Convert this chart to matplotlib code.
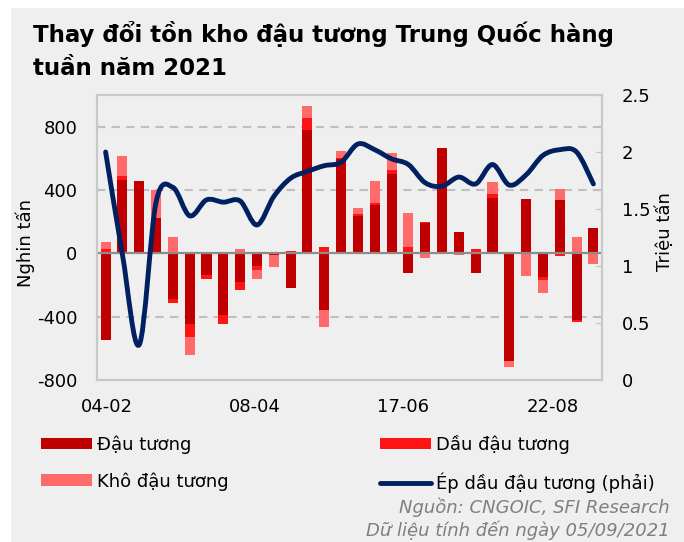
import numpy as np
import matplotlib
matplotlib.use("Agg")
import matplotlib.pyplot as plt
from matplotlib.path import Path
from matplotlib.patches import PathPatch, Patch, Rectangle
from matplotlib.lines import Line2D

plt.rcParams['font.family'] = ['DejaVu Sans']

# ---- data (thousand tonnes, weekly) ----
dau_tuong = [-548, 464, 457, 221, -291, -449, -137, -392, -183, -80,
             -10, -221, 780, -358, 596, 238, 305, 499, -126, 190,
             668, 137, -126, 348, -678, 341, -152, 337, -421, 158]
dau_dau_tuong = [27, 25, 0, 3, -21, -80, -23, -57, -48, -25,
                 0, 12, 74, 40, 8, 10, 10, 27, 40, 8,
                 0, 0, 25, 27, 0, 0, -17, -15, -10, -5]
kho_dau_tuong = [42, 126, 0, 173, 101, -110, 0, 0, 27, -55,
                 -78, 0, 78, -110, 42, 40, 143, 105, 213, -32,
                 0, -10, 0, 74, -38, -141, -80, 70, 101, -65]
# crushing (million tonnes, right axis)
ep_dau = [2.00, 1.10, 0.31, 1.56, 1.69, 1.44, 1.58, 1.56, 1.57, 1.36,
          1.61, 1.77, 1.83, 1.88, 1.91, 2.07, 2.02, 1.94, 1.89, 1.73,
          1.70, 1.78, 1.72, 1.89, 1.71, 1.80, 1.97, 2.02, 2.00, 1.72]
tick_labels = ["04-02", "08-04", "17-06", "22-08"]
tick_pos = [0.05, 8.85, 17.7, 26.6]

series = [("Đậu tương", dau_tuong, "#c00000"),
          ("Dầu đậu tương", dau_dau_tuong, "#ff1414"),
          ("Khô đậu tương", kho_dau_tuong, "#ff6b6b")]

W, H = 684, 542
fig = plt.figure(figsize=(W / 100, H / 100), dpi=100, facecolor="white")
fig.patches.append(Rectangle((11 / W, 0), 1, (H - 8) / H, transform=fig.transFigure,
                             facecolor="#efefef", edgecolor="none", zorder=-10))

ax = fig.add_axes([96.7 / W, (H - 380) / H, (602.3 - 96.7) / W, (380 - 95) / H])
ax.set_facecolor("#efefef")
n = len(dau_tuong)
x = np.arange(n)
pos_base = np.zeros(n)
neg_base = np.zeros(n)
for name, vals, col in series:
    v = np.array(vals, dtype=float)
    base = np.where(v >= 0, pos_base, neg_base)
    ax.bar(x, v, bottom=base, width=0.6, color=col, edgecolor="none", zorder=3)
    pos_base = pos_base + np.where(v > 0, v, 0)
    neg_base = neg_base + np.where(v < 0, v, 0)

ax.set_xlim(-0.53, n - 0.47)
ax.set_ylim(-800, 1000)
ax.set_yticks([-800, -400, 0, 400, 800])
ax.set_yticklabels(["-800", "-400", "0", "400", "800"])
ax.set_xticks(tick_pos)
ax.set_xticklabels(tick_labels)
for yv in [-400, 400, 800]:
    ax.axhline(yv, color="#bfbfbf", lw=1.5, ls=(0, (4, 3)), zorder=1)
ax.axhline(0, color="#8c8c8c", lw=1.6, zorder=4)
for sp in ax.spines.values():
    sp.set_color("#c8c8c8")
    sp.set_linewidth(1.5)
ax.tick_params(axis="y", direction="in", length=4, color="#bfbfbf", labelsize=13, pad=14)
ax.tick_params(axis="x", length=0, labelsize=13, pad=13)

ax2 = ax.twinx()
ax2.set_ylim(0, 2.5)
ax2.set_yticks([0, 0.5, 1, 1.5, 2, 2.5])
ax2.set_yticklabels(["0", "0.5", "1", "1.5", "2", "2.5"])
ax2.tick_params(axis="y", direction="in", length=4, color="#bfbfbf", labelsize=13, pad=14)
for sp in ax2.spines.values():
    sp.set_color("#c8c8c8")
    sp.set_linewidth(1.5)

# smoothed line (Catmull-Rom -> cubic Bezier, as Excel smooth line)
px = x.astype(float)
py = np.array(ep_dau, dtype=float)
verts = [(px[0], py[0])]
codes = [Path.MOVETO]
for i in range(n - 1):
    p0 = (px[max(i - 1, 0)], py[max(i - 1, 0)])
    p1 = (px[i], py[i])
    p2 = (px[i + 1], py[i + 1])
    p3 = (px[min(i + 2, n - 1)], py[min(i + 2, n - 1)])
    c1 = (p1[0] + (p2[0] - p0[0]) / 6, p1[1] + (p2[1] - p0[1]) / 6)
    c2 = (p2[0] - (p3[0] - p1[0]) / 6, p2[1] - (p3[1] - p1[1]) / 6)
    verts += [c1, c2, p2]
    codes += [Path.CURVE4] * 3
ax2.add_patch(PathPatch(Path(verts, codes), facecolor="none", edgecolor="#002060",
                        lw=3.5, capstyle="round", joinstyle="round", zorder=5))

# titles and axis labels
fig.text(33 / W, 1 - 42 / H, "Thay đổi tồn kho đậu tương Trung Quốc hàng",
         fontsize=16.5, fontweight="bold", ha="left", va="baseline")
fig.text(33 / W, 1 - 75 / H, "tuần năm 2021",
         fontsize=16.5, fontweight="bold", ha="left", va="baseline")
fig.text(25 / W, 1 - 243 / H, "Nghin tấn", rotation=90, fontsize=13, ha="center", va="center")
fig.text(665 / W, 1 - 232 / H, "Triệu tấn", rotation=90, fontsize=13, ha="center", va="center")

handles = [Patch(facecolor="#c00000"), Patch(facecolor="#ff6b6b"),
           Patch(facecolor="#ff1414"), Line2D([], [], color="#002060", lw=3.5, solid_capstyle="round")]
labels = ["Đậu tương", "Khô đậu tương", "Dầu đậu tương", "Ép dầu đậu tương (phải)"]
fig.legend(handles, labels, ncol=2, loc="upper left", bbox_to_anchor=(41 / W, 1 - 435 / H),
           frameon=False, fontsize=13, handlelength=2.8, handleheight=0.6, handletextpad=0.3,
           columnspacing=8.4, labelspacing=1.0, borderpad=0, borderaxespad=0)

fig.text(670 / W, 1 - 507 / H, "Nguồn: CNGOIC, SFI Research", fontsize=13, style="italic",
         color="#7f7f7f", ha="right", va="center")
fig.text(670 / W, 1 - 530 / H, "Dữ liệu tính đến ngày 05/09/2021", fontsize=13, style="italic",
         color="#7f7f7f", ha="right", va="center")

fig.savefig("out.png", dpi=100, facecolor=fig.get_facecolor())
